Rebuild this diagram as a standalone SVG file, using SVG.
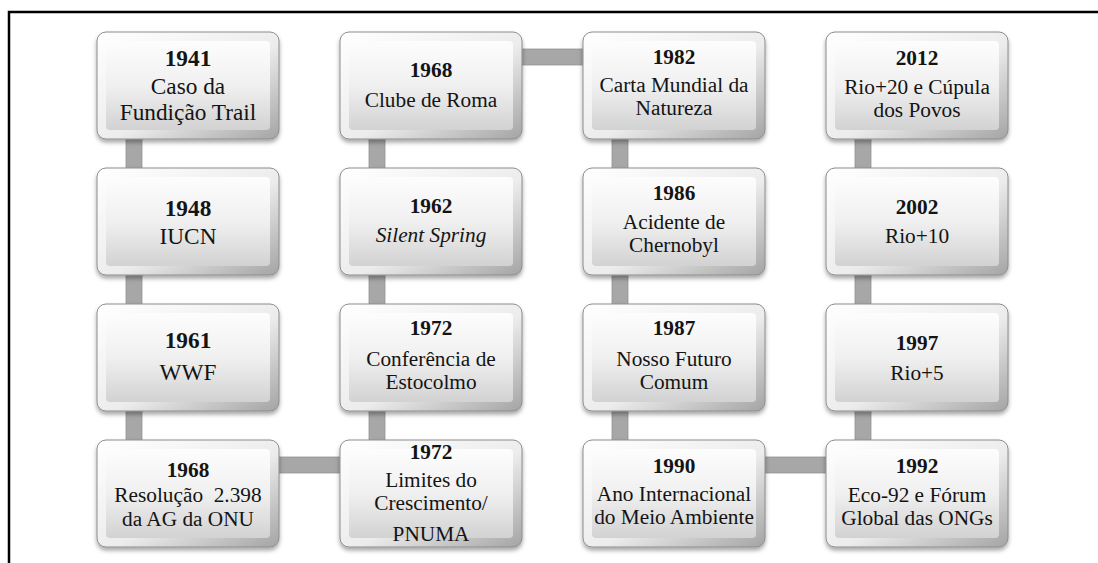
<svg xmlns="http://www.w3.org/2000/svg" xmlns:xlink="http://www.w3.org/1999/xlink" width="1098" height="563" viewBox="0 0 1098 563">
<style>
text{font-family:"Liberation Serif","Times New Roman",serif;fill:#141414;text-anchor:middle;font-size:21.3px}
.y{font-weight:bold}
.big{font-size:23.3px}
.it{font-style:italic}
.bar{fill:#a7a7a7;stroke:#939393;stroke-width:0.8}
</style>
<defs>
<linearGradient id="gOuter" x1="0" y1="0" x2="1" y2="1">
<stop offset="0" stop-color="#ffffff"/>
<stop offset="0.55" stop-color="#ececec"/>
<stop offset="1" stop-color="#a4a4a4"/>
</linearGradient>
<linearGradient id="gFace" x1="0" y1="0" x2="0" y2="1">
<stop offset="0" stop-color="#fdfdfd"/>
<stop offset="0.5" stop-color="#f0f0f0"/>
<stop offset="1" stop-color="#d2d2d2"/>
</linearGradient>
<filter id="sh" x="-10%" y="-10%" width="120%" height="130%">
<feDropShadow dx="0" dy="3" stdDeviation="2" flood-color="#000" flood-opacity="0.35"/>
</filter>
<g id="box">
<rect x="0" y="0" width="182" height="107" rx="9" fill="url(#gOuter)" stroke="#8c8c8c" stroke-width="1" filter="url(#sh)"/>
<rect x="9" y="9" width="164" height="89" rx="4" fill="url(#gFace)"/>
</g>
</defs>
<rect width="1098" height="563" fill="#ffffff"/>
<path d="M9 563 V12 H1098" fill="none" stroke="#000" stroke-width="2.5"/>
<g id="connectors">
<rect class="bar" x="126" y="136" width="16" height="35"/>
<rect class="bar" x="126" y="272" width="16" height="35"/>
<rect class="bar" x="126" y="408" width="16" height="35"/>
<rect class="bar" x="276" y="457" width="67" height="16"/>
<rect class="bar" x="369" y="408" width="16" height="35"/>
<rect class="bar" x="369" y="272" width="16" height="35"/>
<rect class="bar" x="369" y="136" width="16" height="35"/>
<rect class="bar" x="519" y="49" width="67" height="16"/>
<rect class="bar" x="612" y="136" width="16" height="35"/>
<rect class="bar" x="612" y="272" width="16" height="35"/>
<rect class="bar" x="612" y="408" width="16" height="35"/>
<rect class="bar" x="762" y="457" width="67" height="16"/>
<rect class="bar" x="855" y="408" width="16" height="35"/>
<rect class="bar" x="855" y="272" width="16" height="35"/>
<rect class="bar" x="855" y="136" width="16" height="35"/>
</g>
<g id="n1941" transform="translate(97,32)"><use xlink:href="#box"/>
<text class="y big" x="91" y="34">1941</text>
<text class="big" x="91" y="62">Caso da</text>
<text class="big" x="91" y="88">Fundição Trail</text></g>
<g id="n1948" transform="translate(97,168)"><use xlink:href="#box"/>
<text class="y big" x="91" y="48">1948</text>
<text class="big" x="91" y="76">IUCN</text></g>
<g id="n1961" transform="translate(97,304)"><use xlink:href="#box"/>
<text class="y big" x="91" y="44">1961</text>
<text class="big" x="91" y="76">WWF</text></g>
<g id="n1968r" transform="translate(97,440)"><use xlink:href="#box"/>
<text class="y" x="91" y="37">1968</text>
<text x="91" y="62" xml:space="preserve">Resolução  2.398</text>
<text x="91" y="86">da AG da ONU</text></g>
<g id="n1972l" transform="translate(340,440)"><use xlink:href="#box"/>
<text class="y" x="91" y="19">1972</text>
<text x="91" y="47">Limites do</text>
<text x="91" y="70">Crescimento/</text>
<text x="91" y="101">PNUMA</text></g>
<g id="n1972c" transform="translate(340,304)"><use xlink:href="#box"/>
<text class="y" x="91" y="31">1972</text>
<text x="91" y="62">Conferência de</text>
<text x="91" y="85">Estocolmo</text></g>
<g id="n1962" transform="translate(340,168)"><use xlink:href="#box"/>
<text class="y" x="91" y="45">1962</text>
<text class="it" x="91" y="74">Silent Spring</text></g>
<g id="n1968c" transform="translate(340,32)"><use xlink:href="#box"/>
<text class="y" x="91" y="45">1968</text>
<text x="91" y="75">Clube de Roma</text></g>
<g id="n1982" transform="translate(583,32)"><use xlink:href="#box"/>
<text class="y" x="91" y="32">1982</text>
<text x="91" y="60">Carta Mundial da</text>
<text x="91" y="83">Natureza</text></g>
<g id="n1986" transform="translate(583,168)"><use xlink:href="#box"/>
<text class="y" x="91" y="32">1986</text>
<text x="91" y="61">Acidente de</text>
<text x="91" y="84">Chernobyl</text></g>
<g id="n1987" transform="translate(583,304)"><use xlink:href="#box"/>
<text class="y" x="91" y="31">1987</text>
<text x="91" y="62">Nosso Futuro</text>
<text x="91" y="85">Comum</text></g>
<g id="n1990" transform="translate(583,440)"><use xlink:href="#box"/>
<text class="y" x="91" y="33">1990</text>
<text x="91" y="61">Ano Internacional</text>
<text x="91" y="84">do Meio Ambiente</text></g>
<g id="n1992" transform="translate(826,440)"><use xlink:href="#box"/>
<text class="y" x="91" y="33">1992</text>
<text x="91" y="62">Eco-92 e Fórum</text>
<text x="91" y="85">Global das ONGs</text></g>
<g id="n1997" transform="translate(826,304)"><use xlink:href="#box"/>
<text class="y" x="91" y="46">1997</text>
<text x="91" y="76">Rio+5</text></g>
<g id="n2002" transform="translate(826,168)"><use xlink:href="#box"/>
<text class="y" x="91" y="46">2002</text>
<text x="91" y="75">Rio+10</text></g>
<g id="n2012" transform="translate(826,32)"><use xlink:href="#box"/>
<text class="y" x="91" y="33">2012</text>
<text x="91" y="62">Rio+20 e Cúpula</text>
<text x="91" y="85">dos Povos</text></g>
</svg>
